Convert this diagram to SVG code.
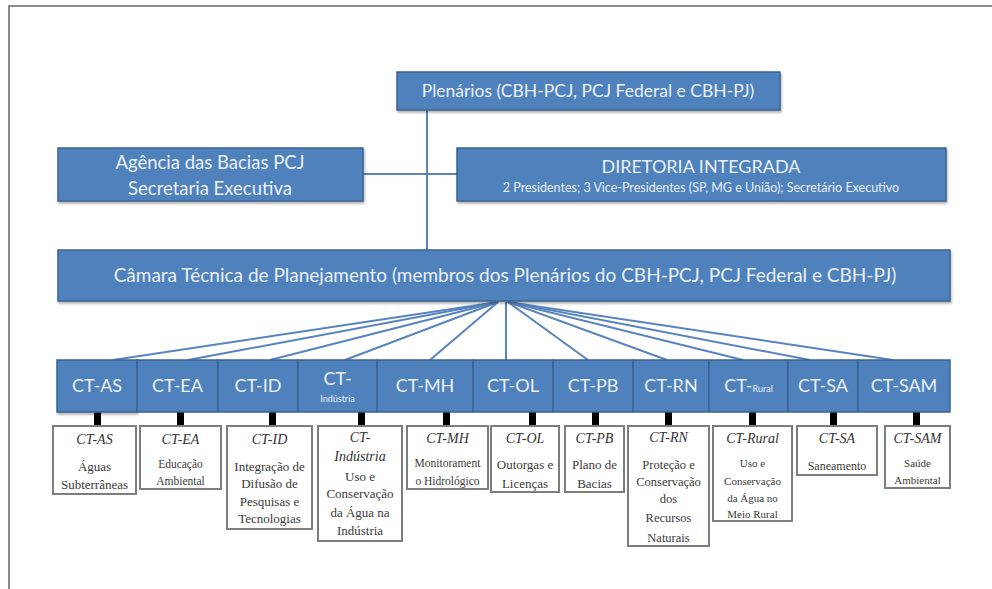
<svg xmlns="http://www.w3.org/2000/svg" width="992" height="589" viewBox="0 0 992 589">
<style>
.bx{fill:#4f81bd;stroke:#3a6391;stroke-width:1.5}
.bt{font-family:Lato,"Open Sans","Liberation Sans",sans-serif;fill:#eaf0f8;text-anchor:middle}
.cn{stroke:#5784bf;stroke-width:2;fill:none}
.wb{fill:#fff;stroke:#7d7d7d;stroke-width:2}
.tt{font-family:"Liberation Serif","Times New Roman",serif;font-style:italic;font-size:14px;fill:#333;text-anchor:middle}
.tx{font-family:"Liberation Serif","Times New Roman",serif;fill:#3a3a3a;text-anchor:middle}
.tk{fill:#000}
</style>
<defs>
<filter id="sh" x="-5%" y="-10%" width="110%" height="130%"><feDropShadow dx="1" dy="2" stdDeviation="1.2" flood-color="#000" flood-opacity="0.3"/></filter>
</defs>
<rect width="992" height="589" fill="#fff"/>
<g id="frame" stroke="#8a8a8a" stroke-width="2" fill="none">
<line x1="8" y1="6" x2="992" y2="6"/>
<line x1="9" y1="5" x2="9" y2="589"/>
</g>
<g id="connectors">
<line class="cn" x1="427" y1="110" x2="427" y2="250"/>
<line class="cn" x1="363" y1="174" x2="457" y2="174"/>
<line class="cn" x1="498" y1="302" x2="113" y2="360"/>
<line class="cn" x1="498" y1="302" x2="188" y2="360"/>
<line class="cn" x1="498" y1="302" x2="270" y2="360"/>
<line class="cn" x1="498" y1="302" x2="345" y2="360"/>
<line class="cn" x1="498" y1="302" x2="430" y2="360"/>
<line class="cn" x1="506" y1="302" x2="506" y2="360"/>
<line class="cn" x1="508" y1="302" x2="588" y2="360"/>
<line class="cn" x1="508" y1="302" x2="667" y2="360"/>
<line class="cn" x1="508" y1="302" x2="743" y2="360"/>
<line class="cn" x1="508" y1="302" x2="810" y2="360"/>
<line class="cn" x1="508" y1="302" x2="893" y2="360"/>
<rect class="tk" x="94" y="412" width="7" height="14"/>
<rect class="tk" x="177" y="412" width="7" height="14"/>
<rect class="tk" x="269" y="412" width="7" height="14"/>
<rect class="tk" x="358" y="412" width="7" height="14"/>
<rect class="tk" x="443" y="412" width="7" height="14"/>
<rect class="tk" x="529" y="412" width="7" height="14"/>
<rect class="tk" x="592" y="412" width="7" height="14"/>
<rect class="tk" x="665" y="412" width="7" height="14"/>
<rect class="tk" x="749" y="412" width="7" height="14"/>
<rect class="tk" x="830" y="412" width="7" height="14"/>
<rect class="tk" x="913" y="412" width="7" height="14"/>
</g>
<g id="plenarios">
<rect class="bx" x="397" y="72" width="383" height="38" filter="url(#sh)"/>
<text class="bt" x="588" y="97" font-size="17.5">Plenários (CBH-PCJ, PCJ Federal e CBH-PJ)</text>
</g>
<g id="agencia">
<rect class="bx" x="58" y="148" width="305" height="53" filter="url(#sh)"/>
<text class="bt" x="210" y="169" font-size="18.5">Agência das Bacias PCJ</text>
<text class="bt" x="210" y="195" font-size="18.5">Secretaria Executiva</text>
</g>
<g id="diretoria">
<rect class="bx" x="457" y="148" width="489" height="53" filter="url(#sh)"/>
<text class="bt" x="701" y="173" font-size="18">DIRETORIA INTEGRADA</text>
<text class="bt" x="701" y="192" font-size="12.5">2 Presidentes; 3 Vice-Presidentes (SP, MG e União); Secretário Executivo</text>
</g>
<g id="camara">
<rect class="bx" x="58" y="250" width="892" height="51" filter="url(#sh)"/>
<text class="bt" x="505" y="282" font-size="19">Câmara Técnica de Planejamento (membros dos Plenários do CBH-PCJ, PCJ Federal e CBH-PJ)</text>
</g>
<g id="ct-row">
<rect class="bx" x="57" y="360" width="80" height="52" filter="url(#sh)"/>
<text class="bt" x="97" y="392" font-size="18">CT-AS</text>
<rect class="bx" x="137" y="360" width="81" height="52"/>
<text class="bt" x="177.5" y="392" font-size="18">CT-EA</text>
<rect class="bx" x="218" y="360" width="80" height="52"/>
<text class="bt" x="258" y="392" font-size="18">CT-ID</text>
<rect class="bx" x="298" y="360" width="79" height="52"/>
<text class="bt" x="337.5" y="385" font-size="18">CT-</text>
<text class="bt" x="337.5" y="402" font-size="9">Indústria</text>
<rect class="bx" x="377" y="360" width="96" height="52"/>
<text class="bt" x="425" y="392" font-size="18">CT-MH</text>
<rect class="bx" x="473" y="360" width="80" height="52"/>
<text class="bt" x="513" y="392" font-size="18">CT-OL</text>
<rect class="bx" x="553" y="360" width="80" height="52"/>
<text class="bt" x="593" y="392" font-size="18">CT-PB</text>
<rect class="bx" x="633" y="360" width="76" height="52"/>
<text class="bt" x="671" y="392" font-size="18">CT-RN</text>
<rect class="bx" x="709" y="360" width="79" height="52"/>
<text class="bt" x="748.5" y="392" font-size="18">CT-<tspan font-size="9">Rural</tspan></text>
<rect class="bx" x="788" y="360" width="70" height="52"/>
<text class="bt" x="823" y="392" font-size="18">CT-SA</text>
<rect class="bx" x="858" y="360" width="92" height="52"/>
<text class="bt" x="904" y="392" font-size="18">CT-SAM</text>
</g>
<g id="ct-as">
<rect class="wb" x="53" y="426" width="83" height="68"/>
<text class="tt" x="94.5" y="444">CT-AS</text>
<text class="tx" x="94.5" y="471" font-size="13">Águas</text>
<text class="tx" x="94.5" y="489" font-size="13">Subterrâneas</text>
</g>
<g id="ct-ea">
<rect class="wb" x="140" y="426" width="81" height="63"/>
<text class="tt" x="180.5" y="444">CT-EA</text>
<text class="tx" x="180.5" y="468" font-size="11.5">Educação</text>
<text class="tx" x="180.5" y="485" font-size="11.5">Ambiental</text>
</g>
<g id="ct-id">
<rect class="wb" x="227" y="426" width="85" height="103"/>
<text class="tt" x="269.5" y="444">CT-ID</text>
<text class="tx" x="269.5" y="471" font-size="13">Integração de</text>
<text class="tx" x="269.5" y="488" font-size="13">Difusão de</text>
<text class="tx" x="269.5" y="506" font-size="13">Pesquisas e</text>
<text class="tx" x="269.5" y="523" font-size="13">Tecnologias</text>
</g>
<g id="ct-industria">
<rect class="wb" x="318" y="426" width="84" height="115"/>
<text class="tt" x="360" y="442">CT-</text>
<text class="tt" x="360" y="461">Indústria</text>
<text class="tx" x="360" y="481" font-size="13">Uso e</text>
<text class="tx" x="360" y="498" font-size="13">Conservação</text>
<text class="tx" x="360" y="517" font-size="13">da Água na</text>
<text class="tx" x="360" y="535" font-size="13">Indústria</text>
</g>
<g id="ct-mh">
<rect class="wb" x="407" y="426" width="81" height="63"/>
<text class="tt" x="447.5" y="443">CT-MH</text>
<text class="tx" x="447.5" y="467" font-size="11.5">Monitorament</text>
<text class="tx" x="447.5" y="485" font-size="11.5">o Hidrológico</text>
</g>
<g id="ct-ol">
<rect class="wb" x="491" y="426" width="68" height="66"/>
<text class="tt" x="525" y="443">CT-OL</text>
<text class="tx" x="525" y="469" font-size="13">Outorgas e</text>
<text class="tx" x="525" y="488" font-size="13">Licenças</text>
</g>
<g id="ct-pb">
<rect class="wb" x="565" y="426" width="59" height="66"/>
<text class="tt" x="594.5" y="443">CT-PB</text>
<text class="tx" x="594.5" y="469" font-size="13">Plano de</text>
<text class="tx" x="594.5" y="488" font-size="13">Bacias</text>
</g>
<g id="ct-rn">
<rect class="wb" x="628" y="426" width="81" height="120"/>
<text class="tt" x="668.5" y="442">CT-RN</text>
<text class="tx" x="668.5" y="469" font-size="12.5">Proteção e</text>
<text class="tx" x="668.5" y="486" font-size="12.5">Conservação</text>
<text class="tx" x="668.5" y="503" font-size="12.5">dos</text>
<text class="tx" x="668.5" y="522" font-size="12.5">Recursos</text>
<text class="tx" x="668.5" y="542" font-size="12.5">Naturais</text>
</g>
<g id="ct-rural">
<rect class="wb" x="713" y="426" width="79" height="95"/>
<text class="tt" x="752.5" y="443">CT-Rural</text>
<text class="tx" x="752.5" y="467" font-size="11">Uso e</text>
<text class="tx" x="752.5" y="485" font-size="11">Conservação</text>
<text class="tx" x="752.5" y="502" font-size="11">da Água no</text>
<text class="tx" x="752.5" y="518" font-size="11">Meio Rural</text>
</g>
<g id="ct-sa">
<rect class="wb" x="797" y="426" width="80" height="49"/>
<text class="tt" x="837" y="443">CT-SA</text>
<text class="tx" x="837" y="470" font-size="12">Saneamento</text>
</g>
<g id="ct-sam">
<rect class="wb" x="885" y="426" width="65" height="62"/>
<text class="tt" x="917.5" y="443">CT-SAM</text>
<text class="tx" x="917.5" y="467" font-size="11">Saúde</text>
<text class="tx" x="917.5" y="484" font-size="11">Ambiental</text>
</g>
</svg>
